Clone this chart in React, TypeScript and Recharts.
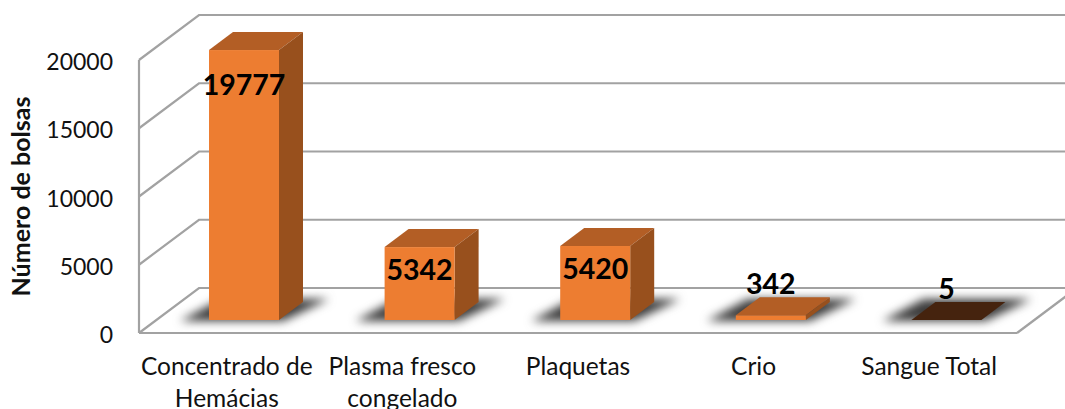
import React from "react";
import { BarChart, Bar, XAxis, YAxis, CartesianGrid, LabelList } from "recharts";

const categories = ["Concentrado de Hemácias", "Plasma fresco congelado", "Plaquetas", "Crio", "Sangue Total"];
const bolsas = [19777, 5342, 5420, 342, 5];
const yTicks = [0, 5000, 10000, 15000, 20000];

const rows = categories.map((categoria, i) => ({ categoria, bolsas: bolsas[i] }));

const FONT = "Lato, Carlito, sans-serif";
const INK = "#111";
const GRID = "#a2a2a2";
const FRONT = "#ed7d31";
const SIDE = "#98501d";
const TOP = "#b35e25";
const TOP_FLAT = "#45230e";

// Perspective offsets: wall depth and how far the bars sit from the floor's front edge.
const WALL_DX = 60;
const WALL_DY = 45;
const BAR_DX = 17;
const BAR_DY = 13;
const CAP_DX = 24;
const CAP_DY = 18;

// One gridline: a run up the side wall, then across the back wall.
const WallLine = (props: any) => {
  const { x1, x2, y1, index } = props;
  const bx = x1 + WALL_DX;
  const by = y1 - WALL_DY;
  return (
    <g key={`wall-${index}`}>
      <polyline points={`${x1},${y1} ${bx},${by} 1065,${by}`} fill="none" stroke={GRID} strokeWidth={2.2} />
      {y1 > 300 ? <line x1={x2} y1={y1} x2={x2 + WALL_DX} y2={by} stroke={GRID} strokeWidth={2.2} /> : null}
    </g>
  );
};

const Bar3D = (props: any) => {
  const { x, y, width, height } = props;
  const l = x + BAR_DX;
  const r = l + width;
  const t = y - BAR_DY;
  const b = t + height;
  const flat = height < 1;
  return (
    <g>
      <polygon
        points={`${l - 29},${b + 1} ${r + 4},${b + 1} ${r + 50},${b - 21} ${l + 12},${b - 21}`}
        fill="#3c3c3c"
        style={{ filter: "blur(5px)" }}
      />
      <polygon points={`${l},${t} ${l + CAP_DX},${t - CAP_DY} ${r + CAP_DX},${t - CAP_DY} ${r},${t}`} fill={flat ? TOP_FLAT : TOP} />
      {!flat && <polygon points={`${r},${t} ${r + CAP_DX},${t - CAP_DY} ${r + CAP_DX},${b - CAP_DY} ${r},${b}`} fill={SIDE} />}
      {!flat && <rect x={l} y={t} width={width} height={height} fill={FRONT} />}
    </g>
  );
};

// Tall bars carry their value inside the front face, short ones above the cap.
const ValueLabel = (props: any) => {
  const { x, y, width, height, value } = props;
  const cx = x + BAR_DX + width / 2;
  const top = y - BAR_DY;
  const cy = height > 30 ? top + 18 + height * 0.06 : top - 32;
  return (
    <text x={cx} y={cy} textAnchor="middle" dominantBaseline="central" fontFamily={FONT} fontWeight={700} fontSize={28.5} fill="#000">
      {value}
    </text>
  );
};

// Names longer than two words continue on a second line.
const CategoryTick = (props: any) => {
  const { x, y, payload } = props;
  const words = String(payload.value).split(" ");
  const lines = words.length > 2 ? [words.slice(0, 2).join(" "), words.slice(2).join(" ")] : [words.join(" ")];
  return (
    <text x={x} y={y} textAnchor="middle" fontFamily={FONT} fontSize={24.5} fill={INK}>
      {lines.map((line, i) => (
        <tspan key={line} x={x} y={y + i * 32}>
          {line}
        </tspan>
      ))}
    </text>
  );
};

export default function App() {
  return (
    <div style={{ position: "absolute", left: 0, top: 0, width: 1065, height: 409, overflow: "hidden", background: "#fff" }}>
      <BarChart
        width={1065}
        height={409}
        data={rows}
        margin={{ top: 60, right: 48, bottom: 0, left: 0 }}
        barCategoryGap={0}
      >
        <CartesianGrid horizontal={WallLine} vertical={false} />
        <XAxis
          dataKey="categoria"
          height={76}
          interval={0}
          tickLine={false}
          tickSize={0}
          tickMargin={42}
          axisLine={{ stroke: GRID, strokeWidth: 2.2 }}
          tick={CategoryTick}
        />
        <YAxis
          width={139}
          domain={[0, 20000]}
          ticks={yTicks}
          interval={0}
          tickLine={false}
          tickSize={0}
          tickMargin={26}
          axisLine={{ stroke: GRID, strokeWidth: 2.2 }}
          tick={{ fontFamily: FONT, fontSize: 23, fill: INK, dy: 2 }}
          label={{
            value: "Número de bolsas",
            angle: -90,
            position: "insideLeft",
            offset: 21,
            style: { textAnchor: "middle", fontFamily: FONT, fontSize: 25, fontWeight: 700, fill: INK },
          }}
        />
        <Bar dataKey="bolsas" barSize={70} shape={Bar3D} isAnimationActive={false}>
          <LabelList dataKey="bolsas" content={ValueLabel} />
        </Bar>
      </BarChart>
    </div>
  );
}
